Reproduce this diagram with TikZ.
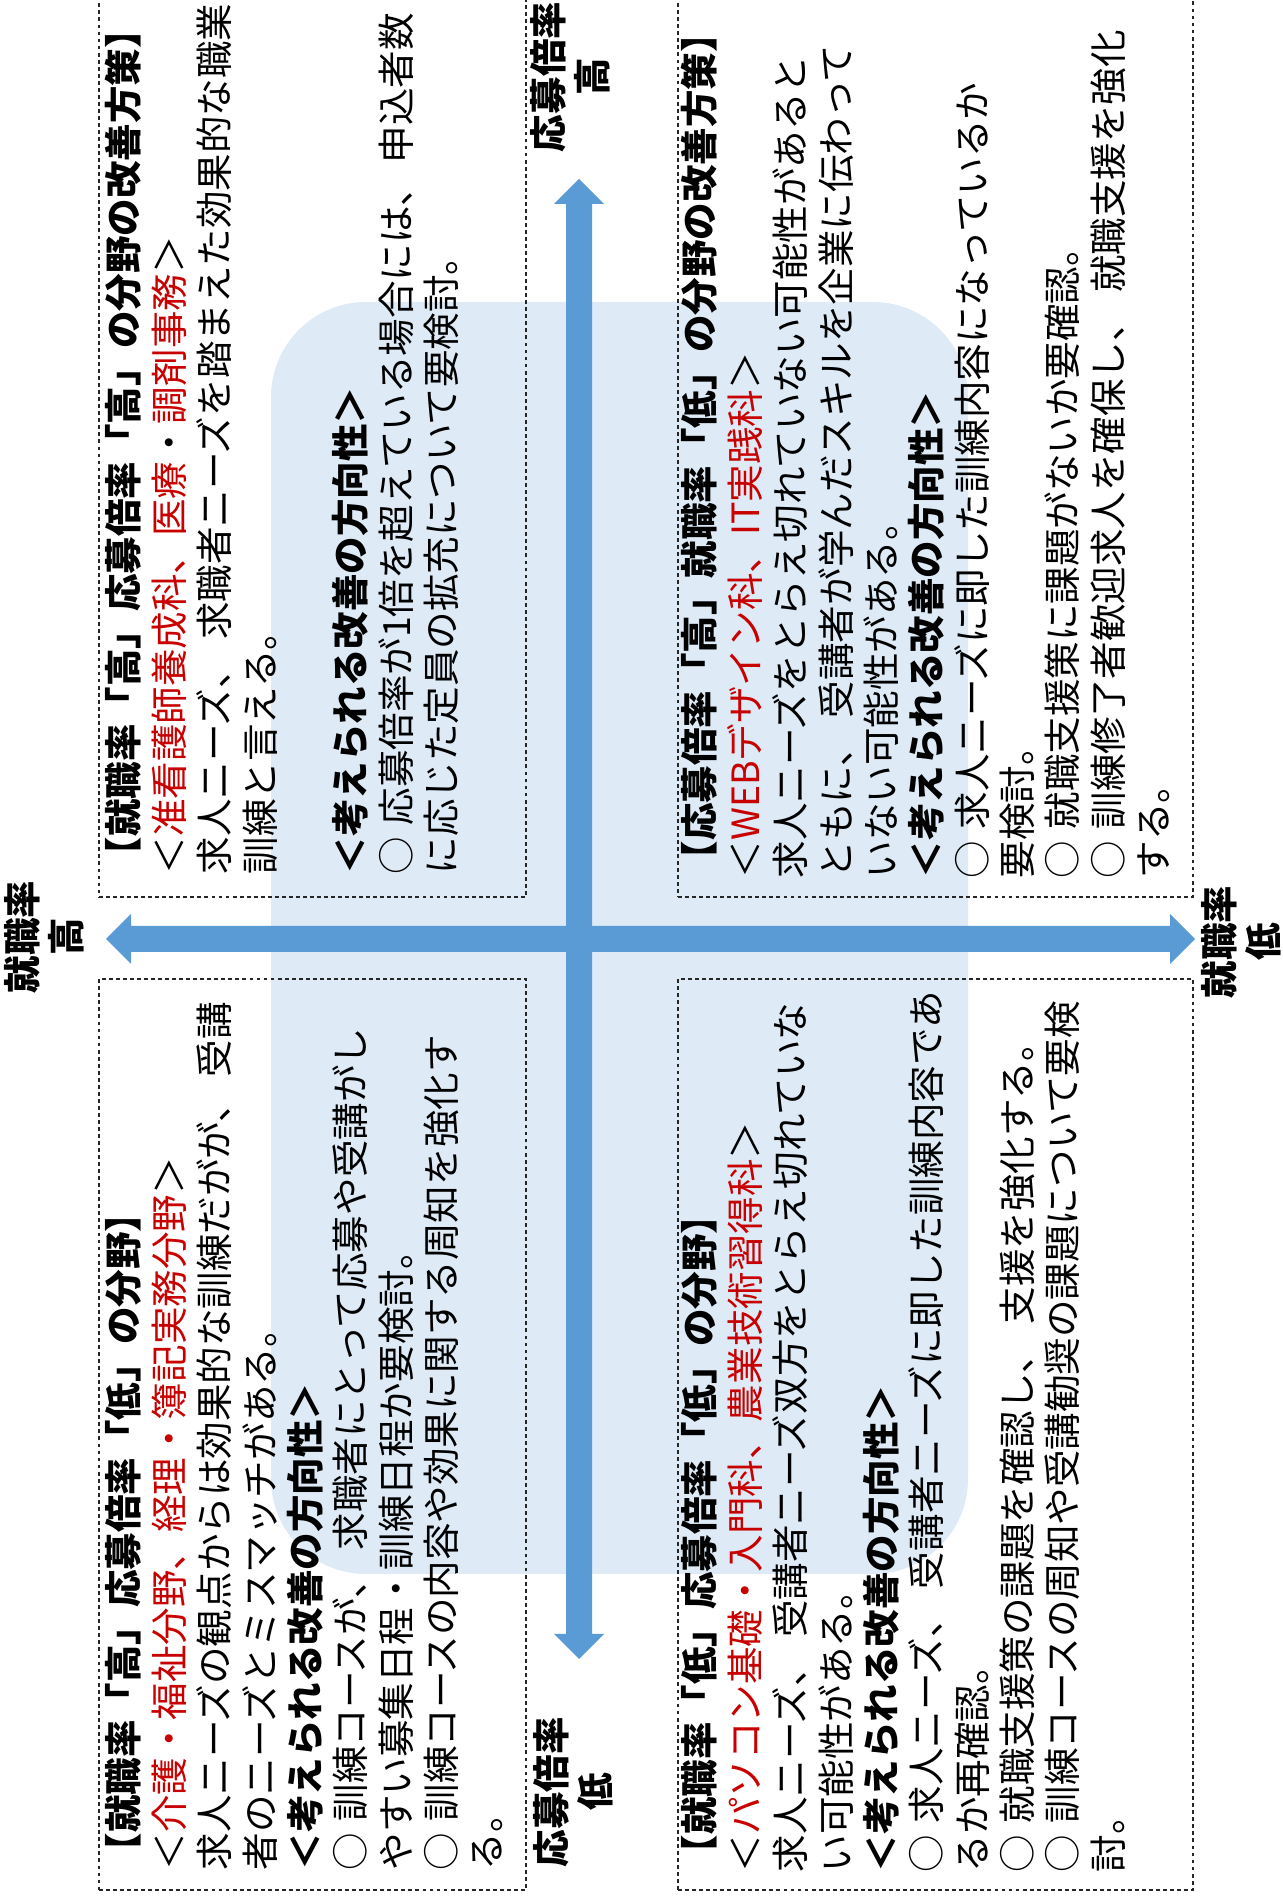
\documentclass[tikz,border=0pt]{standalone}
\usepackage{fontspec}
\setmainfont{Noto Sans CJK JP}
\definecolor{arrowblue}{RGB}{91,155,213}
\definecolor{paleblue}{RGB}{222,234,246}
\definecolor{txtred}{RGB}{200,0,0}
\newcommand{\rd}[1]{\textcolor{txtred}{#1}}
\newcommand{\firstline}{\rule{0pt}{0.9em}}
\tikzset{
  quadbox/.style={draw=black!85, dash pattern=on 1.1pt off 0.9pt, line width=0.35pt},
  txtblock/.style={anchor=north west, inner sep=0pt, align=left,
    font=\fontsize{10.67pt}{12.9pt}\selectfont},
  axislabel/.style={inner sep=0pt, align=center,
    font=\fontsize{10.67pt}{12.6pt}\selectfont\bfseries},
  axisarrow/.style={fill=arrowblue}
}
\begin{document}
\begin{tikzpicture}[x=0.01cm, y=-0.01cm, rotate=90, transform shape]
\clip (0,0) rectangle (1899,1283);
% light background panel
\fill[paleblue, rounded corners=0.95cm] (325,271) rectangle (1597,968);
% quadrant boxes
\draw[quadbox] (1002,99) rectangle (1915,526);
\draw[quadbox] (9,99) rectangle (920,526);
\draw[quadbox] (1002,678) rectangle (1915,1193);
\draw[quadbox] (9,678) rectangle (920,1193);
% axes
\fill[axisarrow] (240,579) -- (265,554) -- (265,566) -- (1695,566) -- (1695,554)
  -- (1720,579) -- (1695,604) -- (1695,592) -- (265,592) -- (265,604) -- cycle;
\fill[axisarrow] (960,106) -- (985,131) -- (973,131) -- (973,1170) -- (985,1170)
  -- (960,1195) -- (935,1170) -- (947,1170) -- (947,131) -- (935,131) -- cycle;
% axis labels
\node[axislabel] (jh) at (962,44) {就職率\\高};
\node[axislabel] (jl) at (957,1241) {就職率\\低};
\node[axislabel] (oh) at (1822,570) {応募倍率\\高};
\node[axislabel] (ol) at (107,573) {応募倍率\\低};
% quadrant texts
\node[txtblock] (tr) at (1024,103.5) {\firstline\textbf{【就職率「高」応募倍率「高」の分野の改善方策】}\\%
＜\rd{准看護師養成科、医療}・\rd{調剤事務}＞\\%
求人ニーズ、\hspace{0.3em}求職者ニーズを踏まえた効果的な職業\\%
訓練と言える。\\[12.9pt]%
\textbf{＜考えられる改善の方向性＞}\\%
○\hspace{0.3em}応募倍率が1倍を超えている場合には、\hspace{0.15em}申込者数\\%
に応じた定員の拡充について要検討。};
\node[txtblock] (tl) at (28,103.5) {\firstline\textbf{【就職率「高」応募倍率「低」の分野】}\\%
＜\rd{介護・福祉分野、経理・簿記実務分野}＞\\%
求人ニーズの観点からは効果的な訓練だがが、\hspace{0.2em}受講\\%
者のニーズとミスマッチがある。\\%
\textbf{＜考えられる改善の方向性＞}\\%
○\hspace{0.3em}訓練コースが、\hspace{0.3em}求職者にとって応募や受講がし\\%
やすい募集日程・訓練日程か要検討。\\%
○\hspace{0.3em}訓練コースの内容や効果に関する周知を強化す\\%
る。};
\node[txtblock] (br) at (1020,679.5) {\firstline\textbf{【応募倍率「高」就職率「低」の分野の改善方策】}\\%
＜\rd{WEBデザイン科、IT実践科}＞\\%
求人ニーズをとらえ切れていない可能性があると\\%
ともに、\hspace{0.3em}受講者が学んだスキルを企業に伝わって\\%
いない可能性がある。\\%
\textbf{＜考えられる改善の方向性＞}\\%
○\hspace{0.3em}求人ニーズに即した訓練内容になっているか\\%
要検討。\\%
○\hspace{0.3em}就職支援策に課題がないか要確認。\\%
○\hspace{0.3em}訓練修了者歓迎求人を確保し、\hspace{0.3em}就職支援を強化\\%
する。};
\node[txtblock] (bl) at (26,679.5) {\firstline\textbf{【就職率「低」応募倍率「低」の分野】}\\%
＜\rd{パソコン基礎・入門科、農業技術習得科}＞\\%
求人ニーズ、\hspace{0.3em}受講者ニーズ双方をとらえ切れていな\\%
い可能性がある。\\%
\textbf{＜考えられる改善の方向性＞}\\%
○\hspace{0.3em}求人ニーズ、\hspace{0.3em}受講者ニーズに即した訓練内容であ\\%
るか再確認。\\%
○\hspace{0.3em}就職支援策の課題を確認し、\hspace{0.3em}支援を強化する。\\%
○\hspace{0.3em}訓練コースの周知や受講勧奨の課題について要検\\%
討。};
\end{tikzpicture}
\end{document}
